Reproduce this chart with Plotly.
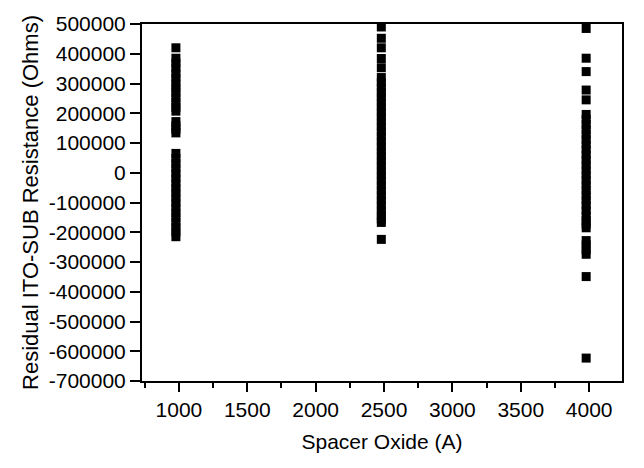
import plotly.graph_objects as go

# Residuals of ITO-SUB resistance grouped by spacer oxide thickness
oxide_1000 = 978
resid_1000 = [420000,
              385000, 368000, 352000, 334000, 318000, 301000, 285000, 270000,
              252000, 236000, 220000, 207000,
              172000, 158000, 146000, 134000,
              65000, 48000, 31000, 15000, -2000, -18000, -35000, -52000,
              -68000, -85000, -101000, -118000, -135000, -150000, -167000,
              -184000, -199000, -215000]

oxide_2500 = 2480
resid_2500 = [490000, 452000, 420000, 384000, 353000,
              320000, 303000, 287000, 270000, 254000, 237000, 221000, 204000,
              188000, 171000, 155000, 138000, 122000, 105000, 89000, 72000,
              56000, 39000, 23000, 6000, -10000, -27000, -43000, -60000,
              -76000, -93000, -109000, -126000, -142000, -155000, -167000,
              -224000]

oxide_4000 = 3978
resid_4000 = [485000, 385000, 340000, 278000, 245000,
              196000, 179000, 162000, 145000, 128000, 111000, 94000, 77000,
              60000, 43000, 26000, 9000, -8000, -25000, -42000, -59000,
              -76000, -93000, -109000, -126000, -143000, -160000, -172000,
              -185000,
              -228000, -243000, -259000, -274000,
              -349000, -623000]

x_vals = ([oxide_1000] * len(resid_1000) + [oxide_2500] * len(resid_2500)
          + [oxide_4000] * len(resid_4000))
y_vals = resid_1000 + resid_2500 + resid_4000

y_ticks = [500000, 400000, 300000, 200000, 100000, 0, -100000, -200000,
           -300000, -400000, -500000, -600000, -700000]
x_ticks = [1000, 1500, 2000, 2500, 3000, 3500, 4000]

font_family = "Liberation Sans, Arial, sans-serif"

fig = go.Figure(
    go.Scatter(
        x=x_vals, y=y_vals, mode="markers",
        marker=dict(symbol="square", size=9, color="black", line=dict(width=0)),
        hoverinfo="x+y",
    )
)

fig.update_layout(
    width=644, height=468,
    margin=dict(l=142, r=22, t=20, b=87),
    paper_bgcolor="white", plot_bgcolor="white",
    showlegend=False,
    font=dict(family=font_family, size=21, color="black"),
)

fig.update_xaxes(
    range=[730, 4240],
    tickmode="array", tickvals=x_ticks, ticktext=[str(v) for v in x_ticks],
    ticks="outside", ticklen=9, tickwidth=2, tickcolor="black",
    minor=dict(tickmode="linear", tick0=750, dtick=500, ticks="outside",
               ticklen=5, tickwidth=2, tickcolor="black", showgrid=False),
    showline=True, linewidth=2, linecolor="black", mirror=True,
    showgrid=False, zeroline=False,
    tickfont=dict(size=21),
    title=dict(text="Spacer Oxide (A)", font=dict(size=21), standoff=14),
)

fig.update_yaxes(
    range=[-700000, 500000],
    tickmode="array", tickvals=y_ticks, ticktext=[str(v) for v in y_ticks],
    ticks="outside", ticklen=10, tickwidth=2, tickcolor="black",
    showline=True, linewidth=2, linecolor="black", mirror=True,
    showgrid=False, zeroline=False,
    tickfont=dict(size=21),
    title=dict(text="Residual ITO-SUB Resistance (Ohms)", font=dict(size=22),
               standoff=4),
)

fig.write_html("out.html")
